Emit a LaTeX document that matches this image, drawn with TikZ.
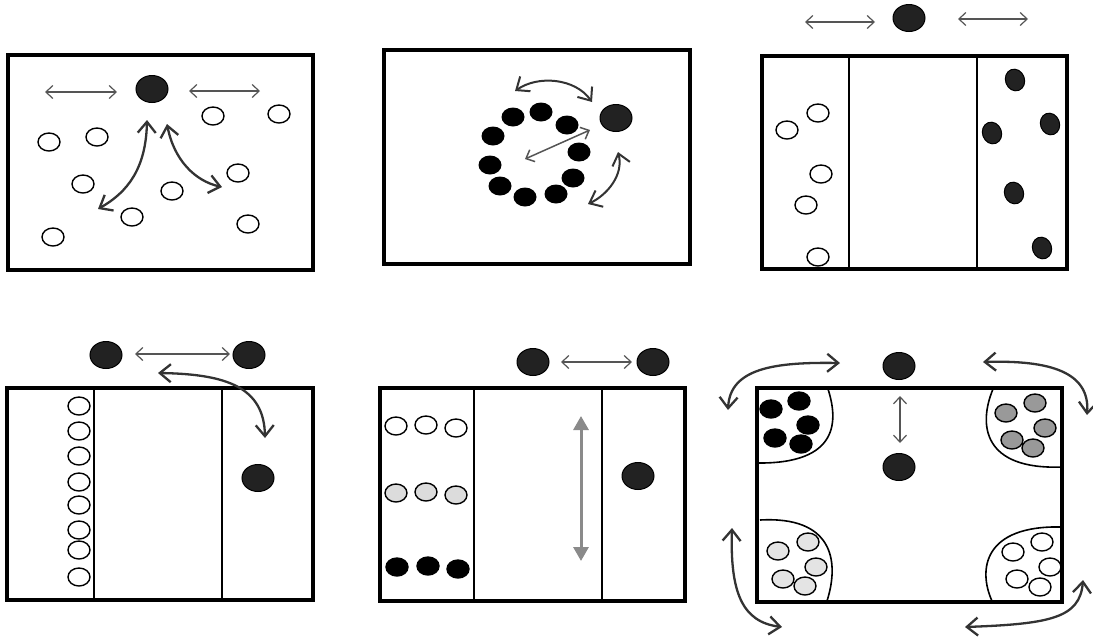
\documentclass[tikz,border=0pt]{standalone}
\usetikzlibrary{shapes.geometric,arrows.meta}
\definecolor{balldark}{HTML}{222222}
\definecolor{thinarrow}{HTML}{555555}
\definecolor{thickarrow}{HTML}{333333}
\definecolor{midgray}{HTML}{999999}
\definecolor{lightgray}{HTML}{DCDCDC}
\definecolor{lightgray2}{HTML}{E4E4E4}
\definecolor{grayarrow}{HTML}{8A8A8A}
\begin{document}
\begin{tikzpicture}[x=1pt,y=-1pt,
  court/.style={line width=3.5pt, draw=black},
  divider/.style={line width=1.6pt, draw=black},
  wc/.style={ellipse, draw=black, line width=1.4pt, fill=white, minimum width=22pt, minimum height=18pt, inner sep=0pt},
  bc/.style={wc, fill=black},
  gc/.style={wc, fill=midgray},
  lc/.style={wc, fill=lightgray},
  ring/.style={ellipse, fill=black, minimum width=23pt, minimum height=19pt, inner sep=0pt},
  dk/.style={ellipse, draw=black, line width=1pt, fill=balldark, minimum width=19pt, minimum height=22pt, inner sep=0pt, rotate=20},
  ball/.style={ellipse, draw=black, line width=1pt, fill=balldark, minimum width=32pt, minimum height=27pt, inner sep=0pt},
  thin/.style={draw=thinarrow, line width=1.2pt, {Straight Barb[length=7pt,width=13pt]}-{Straight Barb[length=7pt,width=13pt]}},
  thick/.style={draw=thickarrow, line width=2.3pt, {Straight Barb[length=11pt,width=18pt]}-{Straight Barb[length=11pt,width=18pt]}},
  grayarr/.style={draw=grayarrow, line width=3pt, {Triangle[length=14pt,width=15pt]}-{Triangle[length=14pt,width=15pt]}},
  zone/.style={line width=1.6pt, draw=black}
]
\useasboundingbox (0,0) rectangle (1093,641);

% ================= Panel 1 =================
\draw[court] (8,55) rectangle (313,270);
\node[ball] (p1ball) at (152,89) {};
\node[wc] (p1c1) at (49,142) {};
\node[wc] (p1c2) at (97,137) {};
\node[wc] (p1c3) at (83,184) {};
\node[wc] (p1c4) at (53,237) {};
\node[wc] (p1c5) at (132,217) {};
\node[wc] (p1c6) at (172,191) {};
\node[wc] (p1c7) at (213,116) {};
\node[wc] (p1c8) at (279,114) {};
\node[wc] (p1c9) at (238,173) {};
\node[wc] (p1c10) at (248,224) {};
\coordinate (p1a1) at (45,92);  \coordinate (p1a2) at (117,92);
\coordinate (p1b1) at (189,91); \coordinate (p1b2) at (260,91);
\draw[thin] (p1a1) -- (p1a2);
\draw[thin] (p1b1) -- (p1b2);
\coordinate (p1l1) at (147,120); \coordinate (p1l2) at (98,209);
\coordinate (p1r1) at (167,124); \coordinate (p1r2) at (222,187);
\draw[thick] (p1l1) .. controls (146,168) and (128,192) .. (p1l2);
\draw[thick] (p1r1) .. controls (174,160) and (195,181) .. (p1r2);

% ================= Panel 2 =================
\draw[court] (384,50) rectangle (690,264);
\node[ball] (p2ball) at (616,118) {};
\node[ring] (p2r1) at (513,117) {};
\node[ring] (p2r2) at (541,112) {};
\node[ring] (p2r3) at (567,125) {};
\node[ring] (p2r4) at (493,136) {};
\node[ring] (p2r5) at (579,152) {};
\node[ring] (p2r6) at (490,165) {};
\node[ring] (p2r7) at (573,178) {};
\node[ring] (p2r8) at (500,186) {};
\node[ring] (p2r9) at (525,197) {};
\node[ring] (p2r10) at (556,194) {};
\coordinate (p2t1) at (515,91);  \coordinate (p2t2) at (592,102);
\coordinate (p2m1) at (525,159); \coordinate (p2m2) at (590,130);
\coordinate (p2b1) at (618,152); \coordinate (p2b2) at (588,204);
\draw[thick, line width=2pt] (p2t1) .. controls (538,75) and (575,78) .. (p2t2);
\draw[thin, line width=1.5pt] (p2m1) -- (p2m2);
\draw[thick, line width=2pt] (p2b1) .. controls (624,175) and (607,195) .. (p2b2);

% ================= Panel 3 =================
\draw[court] (762,56) rectangle (1067,269);
\draw[divider] (849,56) -- (849,269);
\draw[divider] (977,56) -- (977,269);
\node[ball] (p3ball) at (909,18) {};
\coordinate (p3a1) at (805,22);  \coordinate (p3a2) at (875,22);
\coordinate (p3b1) at (958,19);  \coordinate (p3b2) at (1028,19);
\draw[thin] (p3a1) -- (p3a2);
\draw[thin] (p3b1) -- (p3b2);
\node[wc] (p3w1) at (818,113) {};
\node[wc] (p3w2) at (787,130) {};
\node[wc] (p3w3) at (821,174) {};
\node[wc] (p3w4) at (806,205) {};
\node[wc] (p3w5) at (818,257) {};
\node[dk] (p3k1) at (1015,80) {};
\node[dk] (p3k2) at (1050,124) {};
\node[dk] (p3k3) at (992,133) {};
\node[dk] (p3k4) at (1014,193) {};
\node[dk] (p3k5) at (1042,248) {};

% ================= Panel 4 =================
\draw[court] (7,388) rectangle (313,600);
\draw[divider] (94,388) -- (94,600);
\draw[divider] (222,388) -- (222,600);
\node[ball] (p4b1) at (106,355) {};
\node[ball] (p4b2) at (249,355) {};
\node[ball] (p4b3) at (258,478) {};
\coordinate (p4a1) at (135,354); \coordinate (p4a2) at (230,354);
\draw[thin] (p4a1) -- (p4a2);
\coordinate (p4c1) at (158,373); \coordinate (p4c2) at (265,438);
\draw[thick] (p4c1) .. controls (228,374) and (264,388) .. (p4c2);
\node[wc] (p4w1) at (79,406) {};
\node[wc] (p4w2) at (79,431) {};
\node[wc] (p4w3) at (79,456) {};
\node[wc] (p4w4) at (79,482) {};
\node[wc] (p4w5) at (79,505) {};
\node[wc] (p4w6) at (79,530) {};
\node[wc] (p4w7) at (79,550) {};
\node[wc] (p4w8) at (79,577) {};

% ================= Panel 5 =================
\draw[court] (380,388) rectangle (685,601);
\draw[divider] (474,388) -- (474,601);
\draw[divider] (602,388) -- (602,601);
\node[ball] (p5b1) at (533,362) {};
\node[ball] (p5b2) at (653,362) {};
\node[ball] (p5b3) at (638,476) {};
\coordinate (p5a1) at (561,362); \coordinate (p5a2) at (632,362);
\draw[thin] (p5a1) -- (p5a2);
\coordinate (p5g1) at (581,416); \coordinate (p5g2) at (581,561);
\draw[grayarr] (p5g1) -- (p5g2);
\node[wc] (p5w1) at (396,426) {};
\node[wc] (p5w2) at (426,425) {};
\node[wc] (p5w3) at (456,428) {};
\node[lc] (p5l1) at (396,493) {};
\node[lc] (p5l2) at (426,492) {};
\node[lc] (p5l3) at (456,495) {};
\node[bc] (p5k1) at (397,567) {};
\node[bc] (p5k2) at (428,566) {};
\node[bc] (p5k3) at (458,569) {};

% ================= Panel 6 =================
\draw[zone] (828,389) .. controls (838,420) and (840,464) .. (757,463);
\draw[zone] (993,389) .. controls (978,425) and (983,470) .. (1062,467);
\draw[zone] (760,520) .. controls (832,516) and (840,560) .. (827,601);
\draw[zone] (1062,527) .. controls (983,525) and (978,570) .. (992,601);
\draw[court] (757,388) rectangle (1062,602);
\node[ball] (p6b1) at (899,366) {};
\node[ball] (p6b2) at (899,467) {};
\coordinate (p6v1) at (900,396); \coordinate (p6v2) at (900,443);
\draw[thin] (p6v1) -- (p6v2);
\node[bc] (p6k1) at (771,409) {};
\node[bc] (p6k2) at (799,401) {};
\node[bc] (p6k3) at (808,425) {};
\node[bc] (p6k4) at (775,438) {};
\node[bc] (p6k5) at (801,444) {};
\node[gc] (p6g1) at (1006,413) {};
\node[gc] (p6g2) at (1035,403) {};
\node[gc] (p6g3) at (1045,428) {};
\node[gc] (p6g4) at (1012,440) {};
\node[gc] (p6g5) at (1033,448) {};
\node[wc, fill=lightgray2] (p6l1) at (778,551) {};
\node[wc, fill=lightgray2] (p6l2) at (808,542) {};
\node[wc, fill=lightgray2] (p6l3) at (816,567) {};
\node[wc, fill=lightgray2] (p6l4) at (783,579) {};
\node[wc, fill=lightgray2] (p6l5) at (805,586) {};
\node[wc] (p6w1) at (1013,552) {};
\node[wc] (p6w2) at (1042,542) {};
\node[wc] (p6w3) at (1050,567) {};
\node[wc] (p6w4) at (1017,579) {};
\node[wc] (p6w5) at (1040,587) {};
\coordinate (p6tl1) at (840,363); \coordinate (p6tl2) at (728,410);
\coordinate (p6tr1) at (983,362); \coordinate (p6tr2) at (1087,415);
\coordinate (p6bl1) at (732,528); \coordinate (p6bl2) at (782,627);
\coordinate (p6br1) at (1083,580); \coordinate (p6br2) at (965,627);
\draw[thick] (p6tl1) .. controls (775,362) and (730,368) .. (p6tl2);
\draw[thick] (p6tr1) .. controls (1050,360) and (1090,372) .. (p6tr2);
\draw[thick] (p6bl1) .. controls (730,592) and (742,622) .. (p6bl2);
\draw[thick] (p6br1) .. controls (1080,618) and (1050,624) .. (p6br2);
\end{tikzpicture}
\end{document}
